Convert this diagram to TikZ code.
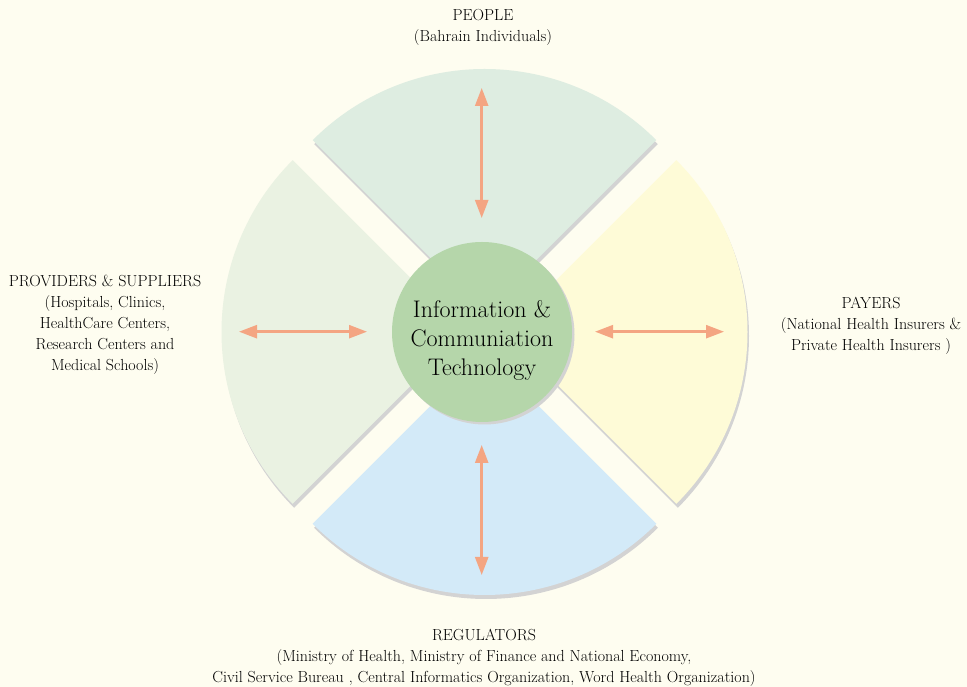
\documentclass[tikz,border=0pt]{standalone}
\usepackage{tikz}
\usetikzlibrary{arrows.meta,positioning}
\definecolor{bgc}{RGB}{254,253,240}
\definecolor{peoplec}{RGB}{222,237,225}
\definecolor{providerc}{RGB}{234,242,226}
\definecolor{payerc}{RGB}{254,251,215}
\definecolor{regulatorc}{RGB}{211,234,248}
\definecolor{ictc}{RGB}{181,214,170}
\definecolor{arrowc}{RGB}{244,165,130}
\definecolor{shadowc}{RGB}{211,211,211}

\begin{document}
\begin{tikzpicture}[x=1pt,y=1pt,
      hub/.style={circle, fill=ictc, inner sep=0pt, minimum size=180pt},
      hubtext/.style={align=center, font=\fontsize{24}{29}\selectfont, text=black},
      grouplabel/.style={align=center, font=\fontsize{16}{21}\selectfont, text=black},
      pfeil/.style={{Triangle[length=18pt,width=13pt]}-{Triangle[length=18pt,width=13pt]}, line width=2.5pt, draw=arrowc}]

\fill[bgc] (0,0) rectangle (967,687);
\useasboundingbox (0,0) rectangle (967,687);

\coordinate (cT) at (484.5,375);
\coordinate (cL) at (464.5,355);
\coordinate (cB) at (484.5,335);
\coordinate (cR) at (504.5,355);

\foreach \c/\s/\e/\col in {cT/45/135/peoplec, cL/135/225/providerc, cB/225/315/regulatorc, cR/-45/45/payerc}{
  \fill[shadowc] ([shift={(1.5,-4)}]\c) -- ++(\s:243) arc[start angle=\s, end angle=\e, radius=243] -- cycle;
  \fill[\col] (\c) -- ++(\s:243) arc[start angle=\s, end angle=\e, radius=243] -- cycle;
}

\fill[shadowc] (484.5,352.5) circle (90);
\node[hub] (ict) at (482,355) {};
\node[hubtext] (ictlabel) at (482,347) {Information \&\\Communiation\\Technology};

\coordinate (aT1) at (481.7,599);
\coordinate (aT2) at (481.7,469);
\coordinate (aB1) at (481.7,242);
\coordinate (aB2) at (481.7,112);
\coordinate (aL1) at (239,355.3);
\coordinate (aL2) at (367,355.3);
\coordinate (aR1) at (595,355.3);
\coordinate (aR2) at (724,355.3);
\draw[pfeil] (aT1) -- (aT2);
\draw[pfeil] (aB1) -- (aB2);
\draw[pfeil] (aL1) -- (aL2);
\draw[pfeil] (aR1) -- (aR2);

\node[grouplabel] (people) at (483,659.5) {PEOPLE\\(Bahrain Individuals)};
\node[grouplabel] (payers) at (871,361) {PAYERS\\(National Health Insurers \&\\Private Health Insurers )};
\node[grouplabel] (providers) at (105,362) {PROVIDERS \& SUPPLIERS\\(Hospitals, Clinics,\\HealthCare Centers,\\Research Centers and\\Medical Schools)};
\node[grouplabel] (regulators) at (484,29.5) {REGULATORS\\(Ministry of Health, Ministry of Finance and National Economy,\\Civil Service Bureau , Central Informatics Organization, Word Health Organization)};

\end{tikzpicture}
\end{document}
